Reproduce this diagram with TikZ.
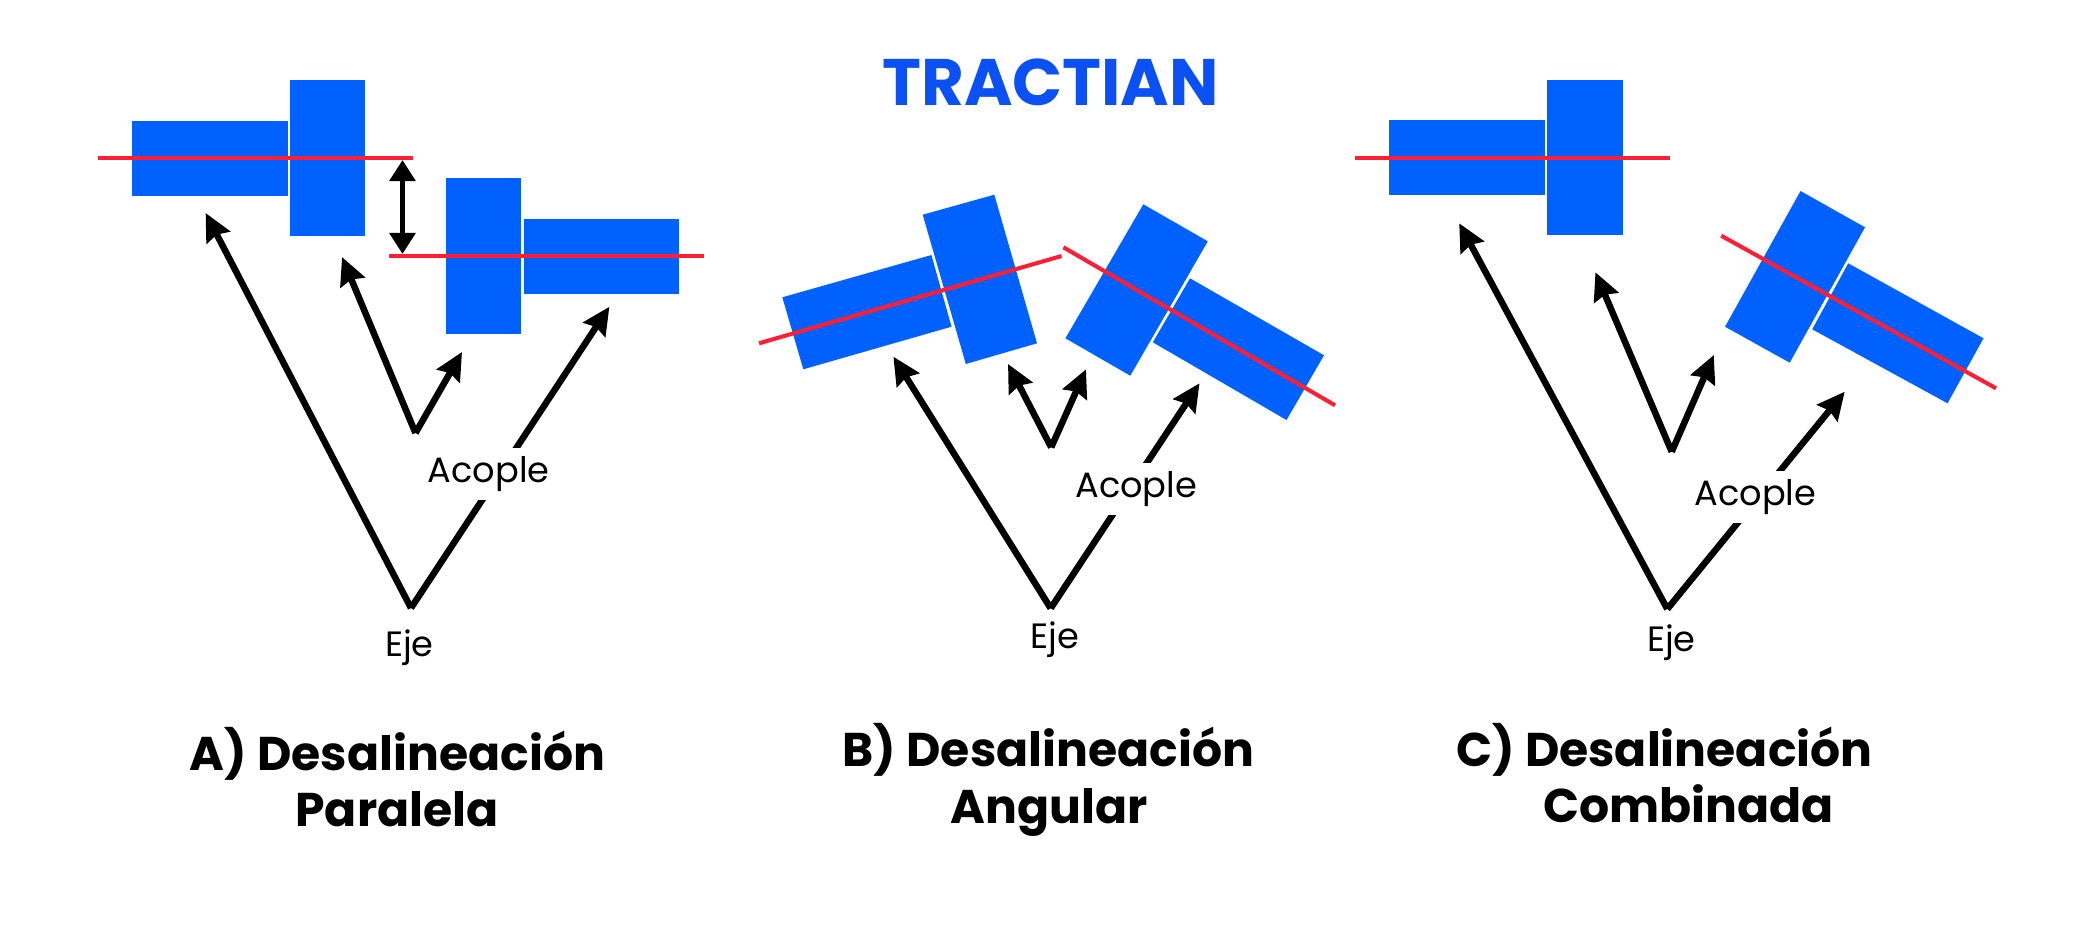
\documentclass[tikz,border=0pt]{standalone}
\usepackage{fontspec}
\setmainfont{Poppins}
\usetikzlibrary{arrows.meta}
\definecolor{partblue}{HTML}{0061FF}
\definecolor{axisred}{HTML}{FF1F35}
\definecolor{logoblue}{HTML}{0B50F2}
\tikzset{
  part/.style={fill=partblue},
  axis/.style={draw=axisred, line width=1.15pt},
  pointer/.style={draw=black, line width=1.85pt, -{Stealth[length=7.8pt,width=7.4pt,inset=0.9pt]}},
  gap/.style={draw=black, line width=1.7pt, {Triangle[length=6pt,width=7.2pt]}-{Triangle[length=6pt,width=7.2pt]}},
  tag/.style={anchor=base, font=\fontsize{10}{12}\selectfont, inner xsep=1pt, inner ysep=2.4pt},
  caption/.style={anchor=base, inner sep=0pt, font=\fontsize{13.45}{16}\selectfont\bfseries},
}

\begin{document}
\begin{tikzpicture}[x=0.01cm, y=-0.01cm]
\useasboundingbox (0,0) rectangle (2100,927);

\node[anchor=base, inner sep=0pt, text=logoblue, font=\fontsize{18.7}{20}\selectfont\bfseries] (logo) at (1050.6,105) {TRACTIAN};

\fill[part] (131.8,121) rectangle (288,196);
\fill[part] (290,80) rectangle (365,236);
\fill[part] (445.7,178) rectangle (520.7,334);
\fill[part] (523.6,219) rectangle (679,293.7);
\coordinate (redAa) at (98,157.7);
\coordinate (redAb) at (413,157.7);
\coordinate (redAc) at (389,256);
\coordinate (redAd) at (704,256);
\draw[axis] (redAa) -- (redAb);
\draw[axis] (redAc) -- (redAd);
\coordinate (gapAa) at (402.5,160);
\coordinate (gapAb) at (402.5,254);
\draw[gap] (gapAa) -- (gapAb);
\coordinate (ejeA) at (411,608);
\coordinate (acopleA) at (415.5,433);
\coordinate (tipAa) at (205.6,213);
\coordinate (tipAb) at (342,257);
\coordinate (tipAc) at (462,352);
\coordinate (tipAd) at (609.4,306.7);
\draw[pointer] (ejeA) -- (tipAa);
\draw[pointer] (ejeA) -- (tipAd);
\draw[pointer] (acopleA) -- (tipAb);
\draw[pointer] (acopleA) -- (tipAc);
\node[tag, fill=white] (labelAa) at (488.8,482.7) {Acople};
\node[tag] (labelAb) at (409.5,656.7) {Eje};
\node[caption] (titleAa) at (397.5,770) {A) Desalineación};
\node[caption] (titleAb) at (397,826.7) {Paralela};

\fill[part] (782.3,297.3) -- (931.4,255) -- (951.5,326.7) -- (803.3,369.3) -- cycle;
\fill[part] (922.7,214.7) -- (994.3,194.7) -- (1037,343.3) -- (965.8,364) -- cycle;
\fill[part] (1143.3,204.3) -- (1207.8,241.3) -- (1130.3,375.7) -- (1065.4,338.3) -- cycle;
\fill[part] (1190,278.3) -- (1324,355.3) -- (1286.5,420) -- (1152.8,342.3) -- cycle;
\coordinate (redBa) at (759,343.3);
\coordinate (redBb) at (1061.5,256);
\coordinate (redBc) at (1063.4,247.3);
\coordinate (redBd) at (1335,405.3);
\draw[axis] (redBa) -- (redBb);
\draw[axis] (redBc) -- (redBd);
\coordinate (ejeB) at (1050.7,608.3);
\coordinate (acopleB) at (1051.2,447.3);
\coordinate (tipBa) at (893.4,356.7);
\coordinate (tipBb) at (1008,364);
\coordinate (tipBc) at (1086,369.3);
\coordinate (tipBd) at (1199.5,383.3);
\draw[pointer] (ejeB) -- (tipBa);
\draw[pointer] (ejeB) -- (tipBd);
\draw[pointer] (acopleB) -- (tipBb);
\draw[pointer] (acopleB) -- (tipBc);
\node[tag, fill=white] (labelBa) at (1136.2,497.3) {Acople};
\node[tag] (labelBb) at (1055,648.3) {Eje};
\node[caption] (titleBa) at (1048.5,766.7) {B) Desalineación};
\node[caption] (titleBb) at (1049,823.3) {Angular};

\fill[part] (1389,120) rectangle (1545,195);
\fill[part] (1546.8,80) rectangle (1622.7,235);
\fill[part] (1800.5,191) -- (1865,227.3) -- (1789.7,362.7) -- (1725,326.7) -- cycle;
\fill[part] (1848.2,263.3) -- (1983.5,338.3) -- (1947.5,403.3) -- (1812.2,329.3) -- cycle;
\coordinate (redCa) at (1354.7,158);
\coordinate (redCb) at (1669.5,158);
\coordinate (redCc) at (1721.2,235.7);
\coordinate (redCd) at (1996,388.3);
\draw[axis] (redCa) -- (redCb);
\draw[axis] (redCc) -- (redCd);
\coordinate (ejeC) at (1667.3,609);
\coordinate (acopleC) at (1671.7,451.7);
\coordinate (tipCa) at (1459.2,223.3);
\coordinate (tipCb) at (1595.4,272.3);
\coordinate (tipCc) at (1713.8,355);
\coordinate (tipCd) at (1844.7,391.7);
\draw[pointer] (ejeC) -- (tipCa);
\draw[pointer] (ejeC) -- (tipCd);
\draw[pointer] (acopleC) -- (tipCb);
\draw[pointer] (acopleC) -- (tipCc);
\node[tag, fill=white] (labelCa) at (1755.5,505) {Acople};
\node[tag] (labelCb) at (1671.3,651.7) {Eje};
\node[caption] (titleCa) at (1664.5,766.7) {C) Desalineación};
\node[caption] (titleCb) at (1688.3,822.3) {Combinada};

\end{tikzpicture}
\end{document}
